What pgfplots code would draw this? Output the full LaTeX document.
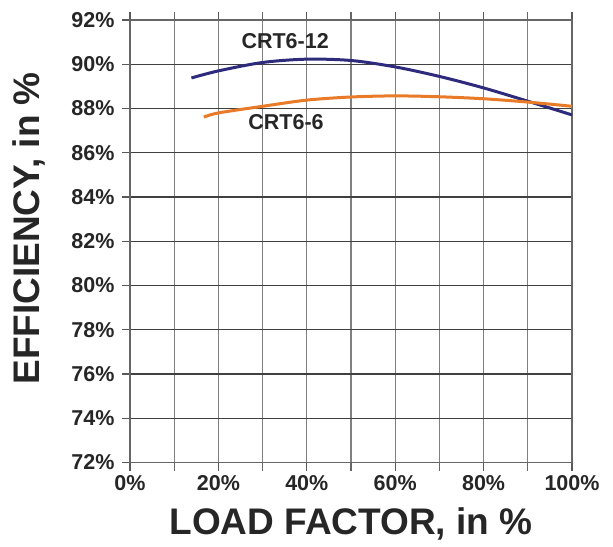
\documentclass[border=0pt]{standalone}
\usepackage{pgfplots}
\pgfplotsset{compat=1.18}
\usepackage{fontspec}
\setmainfont{Liberation Sans}
\definecolor{crtblue}{HTML}{2E2B7C}
\definecolor{crtorange}{HTML}{E97B28}
\definecolor{txt}{HTML}{262626}
\begin{document}
\begin{tikzpicture}[x=1pt,y=1pt]
\path (-130,-84) rectangle (483,462.5);
\begin{axis}[
  at={(0,0)}, anchor=south west,
  scale only axis, width=442pt, height=442.5pt,
  xmin=0, xmax=100, ymin=72, ymax=92,
  xtick={0,20,...,100},
  minor xtick={10,30,...,90},
  ytick={72,74,...,92},
  xtick pos=both, ytick pos=left,
  tick align=outside,
  major tick length=8pt, minor tick length=8pt,
  grid=both,
  x grid style={draw=black!50, line width=1.2pt},
  y grid style={draw=black!75, line width=1.2pt},
  minor grid style={draw=black!50, line width=1.2pt},
  every tick/.style={draw=black!65, line width=1.2pt},
  minor tick style={draw=black!60, line width=1.2pt},
  axis line style={draw=black!60, line width=1.2pt},
  /pgf/number format/assume math mode=true,
  xticklabel={\pgfmathprintnumber{\tick}\%},
  yticklabel={\pgfmathprintnumber{\tick}\%},
  ticklabel style={font=\bfseries\fontsize{21.5}{23}\selectfont, text=txt},
  xticklabel style={yshift=-1pt},
  yticklabel style={xshift=-4pt},
  xlabel={LOAD FACTOR, in \%},
  ylabel={EFFICIENCY, in \%},
  label style={font=\bfseries\fontsize{37}{40}\selectfont, text=txt},
  xlabel style={at={(axis description cs:0.5,-0.138)}, anchor=center},
  ylabel style={at={(axis description cs:-0.2285,0.529)}, anchor=center, rotate=0},
  clip=false,
]
\addplot[crtblue, line width=3pt, smooth] coordinates {
 (13.9,89.38) (20,89.70) (30,90.08) (40,90.23) (50,90.17) (60,89.88)
 (70,89.45) (80,88.93) (90,88.33) (100,87.71)
};
\addplot[crtorange, line width=3pt, smooth] coordinates {
 (16.7,87.61) (20,87.80) (30,88.10) (40,88.38) (50,88.52) (60,88.57)
 (70,88.53) (80,88.44) (90,88.29) (100,88.10)
};
\node[font=\bfseries\fontsize{21.5}{24}\selectfont, text=txt] at (axis cs:35.1,91.04) {CRT6-12};
\node[font=\bfseries\fontsize{21.5}{24}\selectfont, text=txt] at (axis cs:35.3,87.38) {CRT6-6};
\end{axis}
\end{tikzpicture}
\end{document}
